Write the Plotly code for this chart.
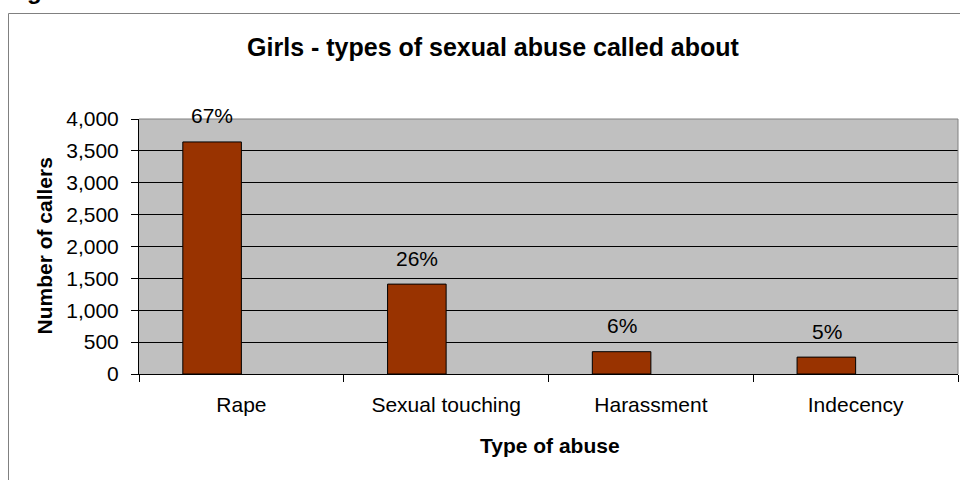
import plotly.graph_objects as go

categories = ["Rape", "Sexual touching", "Harassment", "Indecency"]
callers = [3640, 1410, 350, 265]
pct_labels = ["67%", "26%", "6%", "5%"]

title_text = "Girls - types of sexual abuse called about"
y_title = "Number of callers"
x_title = "Type of abuse"

FONT = "Liberation Sans, Arial, sans-serif"
W, H = 960, 480
L, R, T, B = 139, 2, 119, 106
pw, ph = W - L - R, H - T - B

def px2paper_x(px):
    return (px - L) / pw

def px2paper_y(py):
    return (H - B - py) / ph

fig = go.Figure()
fig.add_trace(go.Bar(
    x=categories, y=callers,
    width=0.286, offset=-0.286,
    marker=dict(color="#993300", line=dict(color="black", width=1)),
    hoverinfo="skip",
))

annotations = []
for c, v, t in zip(categories, callers, pct_labels):
    annotations.append(dict(
        x=c, y=v, xref="x", yref="y", text=t, showarrow=False,
        xshift=-29, yshift=26, yanchor="middle", xanchor="center",
        font=dict(family=FONT, size=21, color="black"),
    ))

annotations.append(dict(
    x=px2paper_x(44), y=0.5, xref="paper", yref="paper", text="<b>%s</b>" % y_title,
    textangle=-90, showarrow=False, xanchor="center", yanchor="middle",
    font=dict(family=FONT, size=21, color="black"),
))
annotations.append(dict(
    x=px2paper_x(550), y=px2paper_y(446), xref="paper", yref="paper", text="<b>%s</b>" % x_title,
    showarrow=False, xanchor="center", yanchor="middle",
    font=dict(family=FONT, size=21, color="black"),
))
annotations.append(dict(
    x=px2paper_x(25), y=px2paper_y(6), xref="paper", yref="paper", text="<b>g</b>",
    showarrow=False, xanchor="left", yanchor="bottom",
    font=dict(family=FONT, size=24, color="black"),
))

shapes = [
    # outer chart border
    dict(type="rect", xref="paper", yref="paper",
         x0=px2paper_x(8.5), x1=px2paper_x(975), y0=px2paper_y(495), y1=px2paper_y(13.5),
         line=dict(color="#808080", width=1), layer="below"),
    # plot area border top and right
    dict(type="line", xref="paper", yref="paper", x0=0, x1=1, y0=1, y1=1,
         line=dict(color="#808080", width=1), layer="above"),
    dict(type="line", xref="paper", yref="paper", x0=1, x1=1, y0=0, y1=1,
         line=dict(color="#808080", width=1), layer="above"),
]

fig.update_layout(
    width=W, height=H,
    margin=dict(l=L, r=R, t=T, b=B, pad=0),
    paper_bgcolor="white", plot_bgcolor="#C0C0C0",
    showlegend=False,
    font=dict(family=FONT, size=21, color="black"),
    title=dict(text="<b>%s</b>" % title_text, x=493 / W, y=1 - 47 / H,
               xref="container", yref="container", xanchor="center", yanchor="middle",
               font=dict(family=FONT, size=25, color="black")),
    xaxis=dict(type="category", tickson="boundaries", ticks="outside", ticklen=7,
               tickcolor="black", tickwidth=1, showline=True, linecolor="black", linewidth=1,
               showgrid=False, ticklabelstandoff=12, fixedrange=True,
               tickfont=dict(family=FONT, size=21, color="black")),
    yaxis=dict(range=[0, 4000], dtick=500, tick0=0, tickformat=",", ticks="outside", ticklen=7,
               tickcolor="black", tickwidth=1, showline=True, linecolor="black", linewidth=1,
               showgrid=True, gridcolor="black", gridwidth=1, zeroline=False,
               ticklabelstandoff=8, fixedrange=True,
               tickfont=dict(family=FONT, size=21, color="black")),
    annotations=annotations,
    shapes=shapes,
)

fig.write_html("out.html")
